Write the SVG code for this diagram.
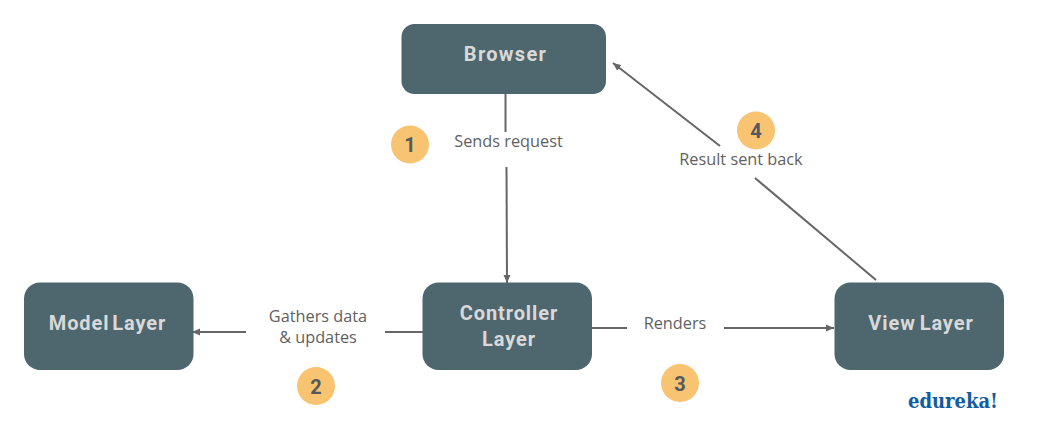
<svg xmlns="http://www.w3.org/2000/svg" width="1041" height="421" viewBox="0 0 1041 421">
<style>
.box{fill:#4e666d}
.nt{font-family:"Roboto","Liberation Sans",sans-serif;font-weight:700;font-size:20px;fill:#d9d9d9;text-anchor:middle;letter-spacing:.9px}
.lb{font-family:"Open Sans","Liberation Sans",sans-serif;font-size:16.300px;fill:#5f5f5f;text-anchor:middle}
.badge{fill:#f8c471}
.num{font-family:"Roboto","Liberation Sans",sans-serif;font-weight:700;font-size:20px;fill:#55585c;text-anchor:middle}
.ln{stroke:#666;stroke-width:2;fill:none}
.ar{marker-end:url(#a)}
</style>
<defs><marker id="a" markerUnits="userSpaceOnUse" markerWidth="10" markerHeight="8" refX="8" refY="4" orient="auto"><path d="M0 0.500L8 4L0 7.500z" fill="#666"/></marker></defs>
<rect width="1041" height="421" fill="#fff"/>
<g id="connectors">
<path class="ln" d="M505.500 92V132"/>
<path class="ln ar" d="M506.500 167L507 283"/>
<path class="ln" d="M423 332H385"/>
<path class="ln ar" d="M246 332H192"/>
<path class="ln" d="M592 328H627"/>
<path class="ln ar" d="M724 328H834"/>
<path class="ln" d="M876 280L755 178"/>
<path class="ln ar" d="M720 146L613 63"/>
</g>
<g id="browser"><rect class="box" x="401.500" y="24" width="204.500" height="70" rx="13"/><text class="nt" x="505.500" y="61" style="letter-spacing:1.300px">Browser</text></g>
<g id="model-layer"><rect class="box" x="24" y="282.500" width="169.500" height="87.500" rx="16"/><text class="nt" x="107.500" y="330" word-spacing="-3">Model Layer</text></g>
<g id="controller-layer"><rect class="box" x="422.500" y="282.500" width="169.500" height="87.500" rx="16"/><text class="nt" x="509" y="320">Controller</text><text class="nt" x="509" y="346">Layer</text></g>
<g id="view-layer"><rect class="box" x="834.500" y="282.500" width="169.500" height="87.500" rx="16"/><text class="nt" x="921" y="330" word-spacing="-2">View Layer</text></g>
<g id="label-1"><text class="lb" x="508.500" y="147">Sends request</text></g>
<g id="label-2"><text class="lb" x="318" y="322">Gathers data</text><text class="lb" x="318" y="343">&amp; updates</text></g>
<g id="label-3"><text class="lb" x="675" y="329">Renders</text></g>
<g id="label-4"><text class="lb" x="741" y="165">Result sent back</text></g>
<g id="badge-1"><circle class="badge" cx="410" cy="144.500" r="19"/><text class="num" x="410" y="152">1</text></g>
<g id="badge-2"><circle class="badge" cx="316" cy="386" r="19"/><text class="num" x="316" y="393.500">2</text></g>
<g id="badge-3"><circle class="badge" cx="680" cy="383" r="19"/><text class="num" x="680" y="390.500">3</text></g>
<g id="badge-4"><circle class="badge" cx="756" cy="130.500" r="19"/><text class="num" x="756" y="138">4</text></g>
<g id="logo"><text x="908" y="408" font-family="'DejaVu Serif','Liberation Serif',serif" font-weight="700" font-size="20px" fill="#135c9e" textLength="90" lengthAdjust="spacingAndGlyphs">edureka!</text></g>
</svg>
